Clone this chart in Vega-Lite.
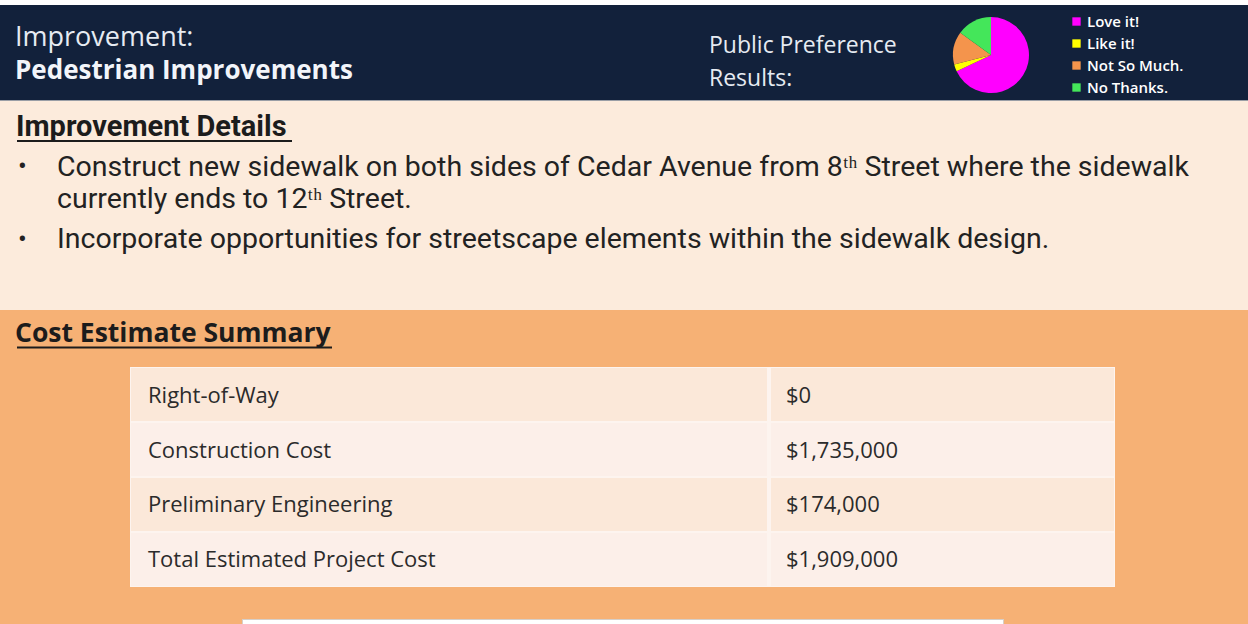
{
  "$schema": "https://vega.github.io/schema/vega-lite/v6.json",
  "width": 1248,
  "height": 624,
  "autosize": {"type": "fit", "contains": "padding"},
  "padding": 0,
  "background": "#ffffff",
  "config": {"view": {"stroke": null}},
  "datasets": {
    "pref": [
      {"response": "Love it!", "share": 68},
      {"response": "Like it!", "share": 3},
      {"response": "Not So Much.", "share": 14},
      {"response": "No Thanks.", "share": 15}
    ],
    "costs": [
      {"item": "Right-of-Way", "cost": "$0"},
      {"item": "Construction  Cost", "cost": "$1,735,000"},
      {"item": "Preliminary Engineering", "cost": "$174,000"},
      {"item": "Total Estimated Project Cost", "cost": "$1,909,000"}
    ]
  },
  "data": {"values": [{}]},
  "layer": [
    {
      "layer": [
        {
          "mark": {"type": "rect", "color": "#12213b"},
          "encoding": {
            "x": {"datum": 0, "type": "quantitative", "scale": {"domain": [0, 1248], "nice": false, "zero": false}, "axis": null},
            "x2": {"datum": 1248},
            "y": {"datum": 5, "type": "quantitative", "scale": {"domain": [0, 624], "nice": false, "zero": false, "reverse": true}, "axis": null},
            "y2": {"datum": 100}
          }
        },
        {
          "mark": {"type": "rect", "color": "#fcebdc"},
          "encoding": {"x": {"datum": 0, "axis": null}, "x2": {"datum": 1248}, "y": {"datum": 100, "axis": null}, "y2": {"datum": 310}}
        },
        {
          "mark": {"type": "rect", "color": "#9a9ea6"},
          "encoding": {"x": {"datum": 0, "axis": null}, "x2": {"datum": 1248}, "y": {"datum": 100, "axis": null}, "y2": {"datum": 101}}
        },
        {
          "mark": {"type": "rect", "color": "#f6b175"},
          "encoding": {"x": {"datum": 0, "axis": null}, "x2": {"datum": 1248}, "y": {"datum": 310, "axis": null}, "y2": {"datum": 624}}
        },
        {
          "mark": {"type": "rect", "color": "#d6cfc9"},
          "encoding": {"x": {"datum": 242, "axis": null}, "x2": {"datum": 1004}, "y": {"datum": 619, "axis": null}, "y2": {"datum": 624}}
        },
        {
          "mark": {"type": "rect", "color": "#ffffff"},
          "encoding": {"x": {"datum": 243, "axis": null}, "x2": {"datum": 1003}, "y": {"datum": 620, "axis": null}, "y2": {"datum": 624}}
        },
        {
          "mark": {"type": "text", "text": "Improvement:", "align": "left", "baseline": "alphabetic", "font": "Open Sans", "fontSize": 27, "color": "#e6ebf2"},
          "encoding": {"x": {"datum": 15, "axis": null}, "y": {"datum": 46, "axis": null}}
        },
        {
          "mark": {"type": "text", "text": "Pedestrian Improvements", "align": "left", "baseline": "alphabetic", "font": "Open Sans", "fontWeight": "bold", "fontSize": 26, "color": "#f2f5fa"},
          "encoding": {"x": {"datum": 15, "axis": null}, "y": {"datum": 79, "axis": null}}
        },
        {
          "mark": {"type": "text", "text": "Public Preference", "align": "left", "baseline": "alphabetic", "font": "Open Sans", "fontSize": 23, "color": "#e6ebf2"},
          "encoding": {"x": {"datum": 709, "axis": null}, "y": {"datum": 53, "axis": null}}
        },
        {
          "mark": {"type": "text", "text": "Results:", "align": "left", "baseline": "alphabetic", "font": "Open Sans", "fontSize": 23, "color": "#e6ebf2"},
          "encoding": {"x": {"datum": 709, "axis": null}, "y": {"datum": 86, "axis": null}}
        },
        {
          "data": {"name": "pref"},
          "transform": [{"window": [{"op": "row_number", "as": "idx"}]}],
          "mark": {"type": "arc", "outerRadius": 38, "stroke": null},
          "encoding": {
            "theta": {"field": "share", "type": "quantitative", "stack": true},
            "order": {"field": "idx", "type": "quantitative"},
            "color": {
              "field": "response", "type": "nominal",
              "sort": ["Love it!", "Like it!", "Not So Much.", "No Thanks."],
              "scale": {"domain": ["Love it!", "Like it!", "Not So Much.", "No Thanks."], "range": ["#ff00ff", "#ffff00", "#f4944c", "#44e65a"]},
              "legend": {
                "title": null, "orient": "none", "legendX": 1069, "legendY": 14,
                "symbolType": "square", "symbolSize": 70, "symbolStrokeWidth": 0,
                "labelColor": "#ffffff", "labelFont": "Open Sans", "labelFontSize": 15, "labelFontWeight": 600,
                "rowPadding": 6, "labelOffset": 3
              }
            },
            "x": {"datum": 991, "axis": null},
            "y": {"datum": 55, "axis": null}
          }
        },
        {
          "mark": {"type": "text", "text": "Improvement Details", "align": "left", "baseline": "alphabetic", "font": "Roboto", "fontWeight": "bold", "fontSize": 29, "color": "#1c1c1c"},
          "encoding": {"x": {"datum": 16, "axis": null}, "y": {"datum": 136, "axis": null}}
        },
        {
          "mark": {"type": "rect", "color": "#1c1c1c"},
          "encoding": {"x": {"datum": 17, "axis": null}, "x2": {"datum": 292}, "y": {"datum": 140, "axis": null}, "y2": {"datum": 142}}
        },
        {
          "mark": {"type": "text", "text": "•", "align": "left", "baseline": "alphabetic", "font": "Roboto", "fontSize": 26, "color": "#222222"},
          "encoding": {"x": {"datum": 18, "axis": null}, "y": {"datum": 175, "axis": null}}
        },
        {
          "mark": {"type": "text", "text": "•", "align": "left", "baseline": "alphabetic", "font": "Roboto", "fontSize": 26, "color": "#222222"},
          "encoding": {"x": {"datum": 18, "axis": null}, "y": {"datum": 248, "axis": null}}
        },
        {
          "mark": {"type": "text", "text": "Construct new sidewalk on both sides of Cedar Avenue from 8ᵗʰ Street where the sidewalk", "align": "left", "baseline": "alphabetic", "font": "Roboto", "fontSize": 28.5, "color": "#222222"},
          "encoding": {"x": {"datum": 57, "axis": null}, "y": {"datum": 176, "axis": null}}
        },
        {
          "mark": {"type": "text", "text": "currently ends to 12ᵗʰ Street.", "align": "left", "baseline": "alphabetic", "font": "Roboto", "fontSize": 28.5, "color": "#222222"},
          "encoding": {"x": {"datum": 57, "axis": null}, "y": {"datum": 208, "axis": null}}
        },
        {
          "mark": {"type": "text", "text": "Incorporate opportunities for streetscape elements within the sidewalk design.", "align": "left", "baseline": "alphabetic", "font": "Roboto", "fontSize": 28.5, "color": "#222222"},
          "encoding": {"x": {"datum": 57, "axis": null}, "y": {"datum": 248, "axis": null}}
        },
        {
          "mark": {"type": "text", "text": "Cost Estimate Summary", "align": "left", "baseline": "alphabetic", "font": "Open Sans", "fontWeight": "bold", "fontSize": 26.5, "color": "#1c1c1c"},
          "encoding": {"x": {"datum": 15, "axis": null}, "y": {"datum": 342, "axis": null}}
        },
        {
          "mark": {"type": "rect", "color": "#1c1c1c"},
          "encoding": {"x": {"datum": 17, "axis": null}, "x2": {"datum": 332}, "y": {"datum": 346.5, "axis": null}, "y2": {"datum": 348.5}}
        },
        {
          "mark": {"type": "rect", "color": "#fdf4ef"},
          "encoding": {"x": {"datum": 130, "axis": null}, "x2": {"datum": 1115}, "y": {"datum": 367, "axis": null}, "y2": {"datum": 587}}
        }
      ]
    },
    {
      "data": {"name": "costs"},
      "layer": [
        {
          "mark": {"type": "rect"},
          "encoding": {
            "x": {"datum": 131, "axis": null},
            "x2": {"datum": 767},
            "y": {"field": "item", "type": "nominal", "sort": null, "scale": {"range": [368, 586], "paddingInner": 0.035, "paddingOuter": 0}, "axis": null},
            "color": {"field": "item", "type": "nominal", "sort": null, "scale": {"range": ["#fbe8d9", "#fcefe9", "#fbe8d9", "#fcefe9"]}, "legend": null}
          }
        },
        {
          "mark": {"type": "rect"},
          "encoding": {
            "x": {"datum": 771, "axis": null},
            "x2": {"datum": 1114},
            "y": {"field": "item", "type": "nominal", "sort": null, "axis": null},
            "color": {"field": "item", "type": "nominal", "sort": null, "legend": null}
          }
        },
        {
          "mark": {"type": "text", "align": "left", "baseline": "middle", "font": "Open Sans", "fontSize": 22, "color": "#2b2b2b", "dy": 1},
          "encoding": {
            "x": {"datum": 148, "axis": null},
            "y": {"field": "item", "type": "nominal", "sort": null, "axis": null},
            "text": {"field": "item"}
          }
        },
        {
          "mark": {"type": "text", "align": "left", "baseline": "middle", "font": "Open Sans", "fontSize": 22, "color": "#2b2b2b", "dy": 1},
          "encoding": {
            "x": {"datum": 786, "axis": null},
            "y": {"field": "item", "type": "nominal", "sort": null, "axis": null},
            "text": {"field": "cost"}
          }
        }
      ]
    }
  ],
  "resolve": {"scale": {"y": "independent", "color": "independent"}}
}
